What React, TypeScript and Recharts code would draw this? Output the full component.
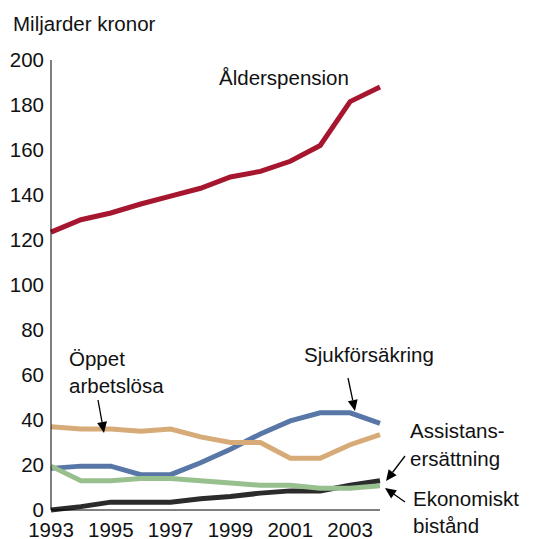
import React from "react";
import { LineChart, Line, XAxis, YAxis } from "recharts";

const years = [1993, 1994, 1995, 1996, 1997, 1998, 1999, 2000, 2001, 2002, 2003, 2004];
const alderspension = [123.5, 129, 132, 136, 139.5, 143, 148, 150.5, 155, 162, 181.5, 188];
const oppetArbetslosa = [37, 36, 36, 35, 36, 32.5, 30, 30, 23, 23, 29, 33.5];
const sjukforsakring = [18.5, 19.5, 19.5, 15.7, 15.7, 21, 27, 33.8, 39.6, 43.2, 43.2, 38.5];
const ekonomisktBistand = [19.5, 13, 13, 14, 14, 13, 12, 11, 11, 9.7, 9.7, 10.8];
const assistansersattning = [0, 1.5, 3.5, 3.5, 3.5, 5, 6, 7.5, 8.5, 8.5, 11, 13];

const xTicks = [1993, 1995, 1997, 1999, 2001, 2003];
const yTicks = [0, 20, 40, 60, 80, 100, 120, 140, 160, 180, 200];

const data = years.map((year, i) => ({
  year,
  alder: alderspension[i],
  oppet: oppetArbetslosa[i],
  sjuk: sjukforsakring[i],
  ekon: ekonomisktBistand[i],
  assist: assistansersattning[i],
}));

const font = "'Liberation Sans', Arial, Helvetica, sans-serif";

function Arrow({ x1, y1, x2, y2 }: { x1: number; y1: number; x2: number; y2: number }) {
  const a = Math.atan2(y2 - y1, x2 - x1);
  const len = 11;
  const w = 5;
  const bx = x2 - len * Math.cos(a);
  const by = y2 - len * Math.sin(a);
  const px = -Math.sin(a) * w;
  const py = Math.cos(a) * w;
  return (
    <g>
      <line x1={x1} y1={y1} x2={bx} y2={by} stroke="#000" strokeWidth={1.3} />
      <polygon points={`${x2},${y2} ${bx + px},${by + py} ${bx - px},${by - py}`} fill="#000" />
    </g>
  );
}

export default function App() {
  return (
    <div style={{ position: "absolute", left: 0, top: 0, width: 540, height: 539, background: "#fff", overflow: "hidden" }}>
      <LineChart
        width={540}
        height={539}
        data={data}
        margin={{ top: 60, right: 160, left: 0, bottom: 0 }}
      >
        <XAxis
          dataKey="year"
          type="number"
          domain={[1993, 2004]}
          ticks={xTicks}
          tickLine={false}
          tickSize={0}
          tickMargin={12}
          height={29}
          axisLine={{ stroke: "#000", strokeWidth: 1 }}
          tick={{ fontSize: 20.5, fill: "#111", fontFamily: font }}
          interval={0}
        />
        <YAxis
          type="number"
          domain={[0, 200]}
          ticks={yTicks}
          tickLine={false}
          tickSize={0}
          tickMargin={7}
          width={51}
          axisLine={{ stroke: "#000", strokeWidth: 1 }}
          tick={{ fontSize: 20.5, fill: "#111", fontFamily: font }}
          interval={0}
        />
        <Line dataKey="alder" stroke="#a6162e" strokeWidth={5} dot={false} isAnimationActive={false} />
        <Line dataKey="sjuk" stroke="#5877a6" strokeWidth={5} dot={false} isAnimationActive={false} />
        <Line dataKey="oppet" stroke="#d6ab78" strokeWidth={5} dot={false} isAnimationActive={false} />
        <Line dataKey="assist" stroke="#2b2b2b" strokeWidth={5} dot={false} isAnimationActive={false} />
        <Line dataKey="ekon" stroke="#98c08e" strokeWidth={5} dot={false} isAnimationActive={false} />
      </LineChart>
      <svg
        width={540}
        height={539}
        style={{ position: "absolute", left: 0, top: 0, pointerEvents: "none" }}
        fontFamily={font}
        fontSize={20.5}
        fill="#111"
      >
        <text x={13} y={31}>Miljarder kronor</text>
        <text x={219} y={85}>Ålderspension</text>
        <text x={69} y={366}>Öppet</text>
        <text x={69} y={393}>arbetslösa</text>
        <Arrow x1={98} y1={400} x2={104} y2={433} />
        <text x={304} y={362}>Sjukförsäkring</text>
        <Arrow x1={348} y1={378} x2={355} y2={411} />
        <text x={410} y={438}>Assistans-</text>
        <text x={410} y={466}>ersättning</text>
        <Arrow x1={405} y1={456} x2={386} y2={481} />
        <text x={413} y={506}>Ekonomiskt</text>
        <text x={413} y={533}>bistånd</text>
        <Arrow x1={405} y1={502} x2={385} y2={488} />
      </svg>
    </div>
  );
}
